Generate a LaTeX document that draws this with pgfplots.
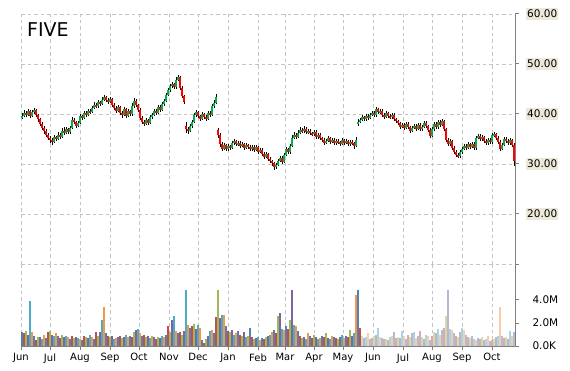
\documentclass[border=0pt]{standalone}
\usepackage{pgfplots}
\pgfplotsset{compat=1.18}
\usepackage{pgfplotstable}
\usepackage{fontspec}
\setmainfont{DejaVu Sans}
\definecolor{upc}{HTML}{00B050}
\definecolor{dnc}{HTML}{FF0000}
\definecolor{tickbg}{HTML}{ECE9D8}
\definecolor{gridc}{HTML}{C4C4C4}
\definecolor{axc}{HTML}{808080}
\definecolor{vc0}{HTML}{4F81BD}
\definecolor{vc1}{HTML}{C0504D}
\definecolor{vc2}{HTML}{9BBB59}
\definecolor{vc3}{HTML}{8064A2}
\definecolor{vc4}{HTML}{4BACC6}
\definecolor{vc5}{HTML}{F79646}
\definecolor{lc0}{HTML}{A7C0DE}
\definecolor{lc1}{HTML}{E0A8A6}
\definecolor{lc2}{HTML}{CDDDAC}
\definecolor{lc3}{HTML}{C0B2D1}
\definecolor{lc4}{HTML}{A5D6E3}
\definecolor{lc5}{HTML}{FBCBA3}
\pgfplotstableread{
o h l c v
39.2 40.1 38.9 39.5 1.2
39.5 40.7 39.3 40.2 1.1
40.2 40.6 39.4 39.8 1.3
39.8 41.0 39.6 40.5 1.0
40.5 40.8 39.2 39.6 3.9
39.6 40.7 39.4 40.3 1.2
40.3 41.2 40.0 40.8 0.9
40.8 41.0 39.3 39.7 0.5
39.7 40.0 38.4 38.9 0.8
38.9 39.2 37.6 38.0 0.8
38.0 38.4 36.8 37.2 0.6
37.2 37.6 36.0 36.5 1.0
36.5 36.9 35.4 35.8 0.7
35.8 36.2 34.7 35.2 1.2
35.2 35.6 34.2 34.8 1.3
34.8 35.1 33.8 34.4 1.0
34.4 35.7 34.1 35.3 0.9
35.3 35.6 34.6 35.0 1.1
35.0 36.3 34.8 35.8 0.9
35.8 36.1 35.0 35.4 0.7
35.4 37.1 35.2 36.6 1.0
36.6 37.3 35.8 36.2 0.8
36.2 37.4 35.9 36.9 0.9
36.9 37.2 35.9 36.3 0.8
36.3 37.6 36.0 37.2 0.6
37.2 39.3 37.0 38.8 0.9
38.8 39.1 37.9 38.3 0.7
38.3 38.6 37.2 37.6 0.8
37.6 38.6 37.3 38.2 0.7
38.2 39.9 38.0 39.5 0.6
39.5 39.8 38.7 39.1 0.5
39.1 40.6 38.9 40.2 0.9
40.2 40.5 39.4 39.8 0.8
39.8 41.0 39.6 40.6 0.7
40.6 40.9 39.9 40.3 1.0
40.3 41.6 40.1 41.2 0.8
41.2 42.3 40.9 41.8 0.6
41.8 42.1 41.1 41.5 1.2
41.5 42.8 41.2 42.3 0.9
42.3 42.6 41.6 42.0 1.2
42.0 43.4 41.8 42.8 2.3
42.8 43.8 42.5 43.3 3.4
43.3 43.6 42.4 42.8 1.1
42.8 43.2 42.0 42.4 0.9
42.4 43.3 42.1 42.9 0.8
42.9 43.2 41.4 41.8 0.9
41.8 42.1 40.8 41.2 0.6
41.2 41.5 40.2 40.6 0.7
40.6 41.8 40.3 41.3 0.8
41.3 41.6 39.8 40.2 0.9
40.2 40.6 39.2 39.8 0.7
39.8 41.3 39.5 40.9 0.8
40.9 41.2 39.1 39.6 1.0
39.6 40.9 39.3 40.5 0.8
40.5 40.8 39.5 39.9 0.9
39.9 42.1 39.6 41.5 0.8
41.5 43.2 41.2 42.6 1.2
42.6 42.9 41.3 41.7 1.4
41.7 42.0 40.3 40.8 1.5
40.8 41.1 38.8 39.2 1.1
39.2 39.5 37.9 38.4 0.9
38.4 38.7 37.5 38.0 1.0
38.0 39.1 37.7 38.7 0.8
38.7 39.0 37.8 38.2 0.9
38.2 39.8 37.9 39.3 0.7
39.3 40.2 39.0 39.8 0.9
39.8 41.0 39.5 40.6 0.8
40.6 40.9 39.7 40.1 0.6
40.1 41.8 39.9 41.4 0.8
41.4 41.7 40.4 40.8 0.7
40.8 42.3 40.5 41.9 0.9
41.9 43.0 41.6 42.6 0.8
42.6 44.2 42.3 43.8 1.0
43.8 45.1 43.5 44.7 1.7
44.7 46.0 44.4 45.5 1.2
45.5 46.4 45.1 45.9 2.3
45.9 46.2 44.9 45.3 2.6
45.3 47.3 45.0 46.8 1.3
46.8 47.8 46.5 47.3 1.1
47.3 47.6 44.8 45.2 1.2
45.2 45.5 43.1 43.5 1.0
43.5 43.8 41.9 42.3 1.3
37.6 38.3 36.1 37.0 4.9
37.0 37.4 36.0 36.6 1.8
36.6 37.9 36.3 37.5 1.6
37.5 38.8 37.2 38.4 1.7
38.4 40.1 38.1 39.7 1.9
39.7 40.7 39.4 40.3 1.5
40.3 40.6 39.1 39.5 1.8
39.5 39.8 38.6 39.0 1.6
39.0 40.3 38.8 39.9 0.5
39.9 40.2 39.0 39.4 0.3
39.4 39.7 38.6 39.0 0.6
39.0 40.6 38.8 40.2 0.9
40.2 40.5 39.3 39.7 1.3
39.7 41.9 39.5 41.5 1.4
41.5 42.7 41.2 42.2 1.1
42.2 43.9 41.9 43.4 2.5
36.8 37.2 35.2 35.8 4.9
35.8 36.1 33.4 33.9 2.4
33.9 34.3 32.6 33.0 2.7
33.0 34.1 32.7 33.7 2.7
33.7 34.0 32.5 32.9 1.7
32.9 33.9 32.6 33.5 1.3
33.5 33.8 32.8 33.2 1.2
33.2 34.5 32.9 34.1 1.4
34.1 34.9 33.8 34.5 1.0
34.5 34.8 33.5 33.9 1.1
33.9 34.6 33.6 34.2 1.3
34.2 34.5 33.2 33.6 1.0
33.6 34.3 33.3 33.9 0.9
33.9 34.2 32.8 33.2 1.2
33.2 34.1 32.9 33.7 0.8
33.7 34.0 33.0 33.4 0.9
33.4 33.7 32.5 32.9 1.6
32.9 33.8 32.6 33.4 0.8
33.4 33.7 32.4 32.8 0.6
32.8 33.7 32.5 33.3 0.7
33.3 33.6 32.0 32.4 0.8
32.4 33.2 32.1 32.8 0.5
32.8 33.1 31.6 32.0 0.7
32.0 32.3 31.0 31.4 0.6
31.4 32.3 31.1 31.9 0.8
31.9 32.2 30.6 31.0 0.9
31.0 31.3 30.1 30.5 1.0
30.5 30.8 29.6 30.1 1.2
30.1 30.4 28.8 29.4 1.4
29.4 30.2 29.0 29.8 1.1
29.8 31.0 29.5 30.6 2.6
30.6 31.6 30.3 31.2 2.9
31.2 31.5 30.0 30.4 1.5
30.4 32.2 30.1 31.8 1.4
31.8 33.3 31.5 32.9 1.7
32.9 33.2 31.9 32.3 1.5
32.3 34.0 32.0 33.6 2.3
33.6 35.7 33.3 35.2 4.9
35.2 36.3 34.9 35.8 1.8
35.8 36.1 34.9 35.4 1.7
35.4 36.7 35.1 36.2 1.3
36.2 37.3 35.9 36.8 0.9
36.8 37.1 36.1 36.5 0.7
36.5 37.5 36.2 37.0 0.8
37.0 37.3 35.9 36.3 0.6
36.3 37.0 36.0 36.6 1.1
36.6 36.9 35.7 36.1 0.9
36.1 36.4 35.5 35.9 0.7
35.9 36.8 35.6 36.4 1.0
36.4 36.7 34.9 35.3 0.8
35.3 36.2 35.0 35.8 0.6
35.8 36.1 34.7 35.1 0.7
35.1 35.4 34.4 34.8 0.9
34.8 35.1 33.8 34.2 0.8
34.2 35.0 33.9 34.6 1.1
34.6 35.5 34.3 35.1 0.7
35.1 35.4 34.0 34.4 0.6
34.4 35.2 34.1 34.8 0.9
34.8 35.1 33.7 34.1 0.8
34.1 35.0 33.8 34.6 0.7
34.6 34.9 33.9 34.3 0.6
34.3 34.6 33.6 34.0 0.8
34.0 35.1 33.7 34.7 1.0
34.7 35.0 33.8 34.2 0.7
34.2 34.9 33.9 34.5 0.9
34.5 34.8 33.5 33.9 0.8
33.9 34.8 33.6 34.4 1.4
34.4 34.7 33.7 34.1 0.9
34.1 34.4 33.0 33.6 1.1
33.6 35.3 33.3 34.8 4.4
37.9 38.9 37.6 38.4 4.9
38.4 39.2 38.1 38.8 1.6
38.8 39.7 38.5 39.3 0.9
39.3 39.6 38.5 38.9 0.7
38.9 40.0 38.6 39.6 0.8
39.6 39.9 38.8 39.2 1.1
39.2 40.2 38.9 39.8 0.6
39.8 40.6 39.5 40.2 0.7
40.2 40.5 39.3 39.7 0.9
39.7 41.4 39.4 40.9 1.0
40.9 41.2 39.9 40.3 1.6
40.3 41.0 40.0 40.6 0.8
40.6 40.9 39.4 39.8 0.7
39.8 40.1 39.0 39.4 0.6
39.4 40.5 39.1 40.1 0.6
40.1 40.4 39.2 39.6 0.5
39.6 39.9 38.9 39.3 0.8
39.3 40.2 39.0 39.8 0.9
39.8 40.1 38.5 38.9 1.2
38.9 39.2 38.1 38.5 0.7
38.5 38.8 37.7 38.1 0.8
38.1 38.4 37.0 37.4 0.7
37.4 38.2 37.1 37.8 1.3
37.8 38.1 36.8 37.2 0.9
37.2 38.4 36.9 38.0 0.6
38.0 38.3 36.9 37.3 1.0
37.3 37.6 36.2 36.6 0.8
36.6 37.6 36.3 37.2 1.1
37.2 38.0 36.9 37.6 1.2
37.6 37.9 36.6 37.0 0.7
37.0 38.2 36.7 37.8 0.9
37.8 38.1 36.5 36.9 1.3
36.9 37.8 36.6 37.4 0.8
37.4 38.6 37.1 38.2 0.6
38.2 38.5 37.1 37.5 1.0
37.5 37.8 36.4 36.8 0.9
36.8 37.1 35.2 35.6 0.5
35.6 37.3 35.3 36.9 0.9
36.9 38.4 36.6 38.0 1.2
38.0 38.3 36.9 37.3 1.1
37.3 38.8 37.0 38.4 1.5
38.4 38.7 37.4 37.8 1.0
37.8 38.9 37.5 38.5 1.4
38.5 38.8 36.5 36.9 1.6
36.9 37.2 34.4 34.8 2.6
34.8 35.1 33.5 33.9 4.9
33.9 34.9 33.6 34.5 1.5
34.5 34.8 32.8 33.2 1.4
33.2 33.5 32.0 32.4 1.1
32.4 32.7 31.4 31.8 0.9
31.8 32.1 31.1 31.5 0.8
31.5 32.7 31.2 32.3 1.2
32.3 33.4 32.0 33.0 1.6
33.0 34.0 32.7 33.6 1.4
33.6 33.9 32.8 33.2 1.0
33.2 34.3 32.9 33.9 0.8
33.9 34.2 33.0 33.4 0.7
33.4 34.4 33.1 34.0 0.9
34.0 34.3 32.7 33.1 0.6
33.1 35.6 32.8 35.2 0.5
35.2 36.0 34.9 35.6 0.7
35.6 35.9 34.5 34.9 0.6
34.9 35.7 34.6 35.3 0.8
35.3 35.6 34.2 34.6 0.5
34.6 34.9 33.7 34.1 0.6
34.1 35.2 33.8 34.8 0.9
34.8 35.1 33.9 34.3 0.4
34.3 36.1 34.0 35.7 0.5
35.7 36.3 35.4 35.9 0.6
35.9 36.2 34.8 35.2 0.8
35.2 35.5 34.0 34.4 0.9
34.4 34.7 32.6 33.0 3.4
33.0 34.2 32.7 33.8 0.9
33.8 35.4 33.5 35.0 0.7
35.0 35.3 34.2 34.6 0.8
34.6 34.9 33.7 34.1 0.6
34.1 35.1 33.8 34.7 1.3
34.7 35.0 33.4 33.8 0.9
33.8 34.1 29.5 30.5 1.2
}\prices
\begin{document}
\begin{tikzpicture}[x=1pt,y=1pt]
\useasboundingbox (0,0) rectangle (570,370);
\pgfplotsset{
  mygrid/.style={major grid style={gridc, line width=0.8pt, dash pattern=on 3.5pt off 3pt}},
  commonx/.style={xmin=21, xmax=515,
    xtick={21,50,80,110,139,169,198,228,258,285,314,343,373,403,432,462,492}},
  candle/.style 2 args={draw=none, mark=none, forget plot,
    error bars/.cd, y dir=both, y explicit, error mark=none,
    error bar style={draw=#1, line width=#2, solid}},
}
\begin{axis}[
  at={(21pt,106pt)}, anchor=south west, scale only axis,
  width=494pt, height=250pt, commonx,
  ymin=10, ymax=60,
  axis x line*=bottom, axis y line*=right,
  x axis line style={draw=none}, xticklabels={}, xtick style={draw=none},
  y axis line style={axc, line width=1pt},
  ytick={20,30,40,50,60},
  yticklabels={20.00,30.00,40.00,50.00,60.00},
  extra y ticks={10}, extra y tick labels={\empty},
  extra y tick style={grid=major, yticklabel style={fill=none}},
  ytick style={axc, line width=1pt},
  tick align=outside, major tick length=4pt,
  yticklabel style={font=\fontsize{10.5}{12}\selectfont, xshift=7pt, anchor=west,
    fill=tickbg, inner xsep=1pt, inner ysep=2pt},
  grid=major, mygrid,
  clip=false,
]
\addplot[candle={black}{1pt}]
  table[x expr={22+2*\coordindex}, y expr={(\thisrow{h}+\thisrow{l})/2},
        y error expr={(\thisrow{h}-\thisrow{l})/2}] {\prices};
\addplot[candle={upc}{1.8pt}]
  table[x expr={22+2*\coordindex}, y expr={(\thisrow{o}+\thisrow{c})/2},
        y error expr={max(\thisrow{c}-\thisrow{o},0)/2}] {\prices};
\addplot[candle={dnc}{1.8pt}]
  table[x expr={22+2*\coordindex}, y expr={(\thisrow{o}+\thisrow{c})/2},
        y error expr={max(\thisrow{o}-\thisrow{c},0)/2}] {\prices};
\end{axis}
\node[anchor=north west, inner sep=0pt, font=\fontsize{19}{22}\selectfont] at (27,348) {FIVE};
\begin{axis}[
  at={(21pt,24pt)}, anchor=south west, scale only axis,
  width=494pt, height=82pt, commonx,
  ymin=0, ymax=7.1304,
  axis x line*=bottom, axis y line*=right,
  axis line style={axc, line width=1pt},
  xticklabels={Jun,Jul,Aug,Sep,Oct,Nov,Dec,Jan,Feb,Mar,Apr,May,Jun,Jul,Aug,Sep,Oct},
  xticklabel style={font=\fontsize{10}{12}\selectfont},
  ytick={0,2,4}, yticklabels={0.0K,2.0M,4.0M},
  yticklabel style={font=\fontsize{10.5}{12}\selectfont, xshift=10pt, anchor=west},
  tick style={axc, line width=1pt},
  tick align=outside, major tick length=4pt,
  xmajorgrids, mygrid,
]
\pgfplotsinvokeforeach{0,1,2,3,4,5}{
\addplot[ycomb, mark=none, vc#1, line width=1.3pt, forget plot]
  table[x expr={22+2*\coordindex}, y expr={\thisrow{v}*(mod(\coordindex,6)==#1)*(\coordindex<170)}] {\prices};
\addplot[ycomb, mark=none, lc#1, line width=1.3pt, forget plot]
  table[x expr={22+2*\coordindex}, y expr={\thisrow{v}*(mod(\coordindex,6)==#1)*(\coordindex>=170)}] {\prices};
}
\end{axis}
\end{tikzpicture}
\end{document}
